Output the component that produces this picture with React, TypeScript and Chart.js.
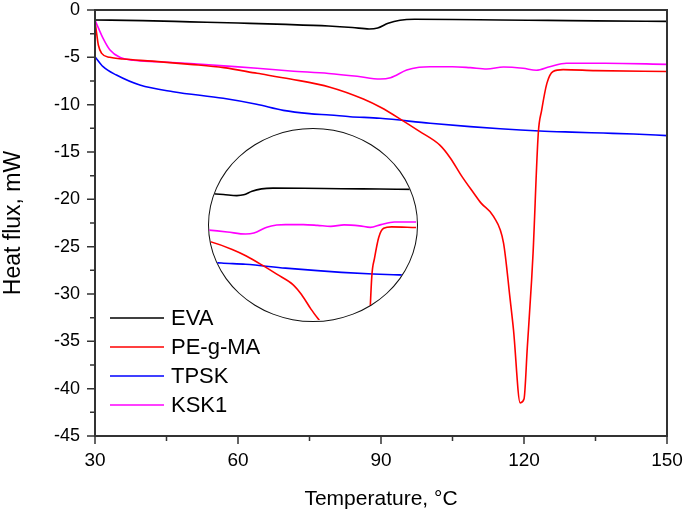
import React, { useEffect, useRef } from "react";
import { Chart, registerables } from "chart.js";

Chart.register(...registerables);

// ---------- data ----------
const seriesNames = ["EVA", "PE-g-MA", "TPSK", "KSK1"];
const seriesColors = ["#000000", "#ff0000", "#0000ff", "#ff00ff"];

const evaTemp = [30, 40, 50, 60, 70, 79, 84, 87.5, 89.3, 91.5, 94, 97, 105, 115, 125, 135, 150];
const evaFlux = [-1.05, -1.12, -1.25, -1.38, -1.52, -1.69, -1.85, -2.0, -1.9, -1.4, -1.08, -0.98, -1.0, -1.06, -1.1, -1.15, -1.2];

const pegTemp = [30, 30.3, 30.7, 31.4, 33.1, 35.9, 42, 50, 57, 64, 71, 79.3, 86.3, 90, 94.3, 98, 102.4, 104.5, 107, 109.4, 111, 113.6, 115.7, 117.1, 117.8, 119.2, 120, 120.7, 121.6, 121.9, 123, 123.7, 124.8, 126.1, 128.2, 135, 150];
const pegFlux = [-1.2, -2.3, -3.7, -4.58, -5.0, -5.18, -5.4, -5.74, -6.09, -6.69, -7.29, -8.15, -9.4, -10.3, -11.6, -12.8, -14.3, -15.6, -17.6, -19.3, -20.4, -21.8, -24.6, -30.6, -33.8, -41.5, -41.1, -35.6, -28.5, -25.7, -13.0, -10.6, -7.75, -6.5, -6.3, -6.4, -6.5];

const tpskTemp = [30, 31.7, 34.5, 39.4, 46.4, 56.9, 63.9, 69.5, 75, 79.3, 83.5, 89.8, 100.3, 108.7, 115, 123.3, 130, 136.6, 143, 150];
const tpskFlux = [-4.93, -5.99, -6.87, -7.92, -8.63, -9.33, -9.96, -10.6, -10.95, -11.09, -11.27, -11.44, -11.97, -12.32, -12.55, -12.78, -12.9, -13.0, -13.1, -13.27];

const kskTemp = [30, 30.8, 31.7, 33.1, 35.2, 38, 43, 50, 57, 64, 71, 79, 85, 89.8, 92, 95.4, 98, 100.3, 105, 108.7, 112.2, 115.7, 119.8, 122.6, 125.4, 128.9, 137, 150];
const kskFlux = [-1.06, -2.0, -3.0, -4.2, -5.0, -5.3, -5.46, -5.65, -5.9, -6.15, -6.44, -6.7, -7.0, -7.29, -7.15, -6.34, -6.05, -5.99, -5.99, -6.09, -6.23, -6.02, -6.16, -6.37, -5.99, -5.63, -5.63, -5.74];

const seriesTemps = [evaTemp, pegTemp, tpskTemp, kskTemp];
const seriesFlux = [evaFlux, pegFlux, tpskFlux, kskFlux];

const xTicks = [30, 60, 90, 120, 150];
const xMinorTicks = [45, 75, 105, 135];
const yTicks = [0, -5, -10, -15, -20, -25, -30, -35, -40, -45];
const yMinorTicks = [-2.5, -7.5, -12.5, -17.5, -22.5, -27.5, -32.5, -37.5, -42.5];

const xTitle = "Temperature, °C";
const yTitle = "Heat flux, mW";

// zoomed inset view range
const insetX = [80.2, 134.6];
const insetY = [-19.1, 7.15];

const FONT = "'Liberation Sans', Arial, Helvetica, sans-serif";

function makeDatasets() {
  return seriesNames.map((name, i) => ({
    label: name,
    data: seriesTemps[i].map((t, j) => ({ x: t, y: seriesFlux[i][j] })),
    borderColor: seriesColors[i],
    backgroundColor: seriesColors[i],
    borderWidth: 1.6,
    pointRadius: 0,
    fill: false,
    cubicInterpolationMode: "monotone" as const,
  }));
}

const framePlugin = {
  id: "frameAndTicks",
  afterDraw(chart: any) {
    const { ctx, chartArea, scales } = chart;
    ctx.save();
    ctx.strokeStyle = "#333";
    ctx.lineWidth = 2;
    ctx.strokeRect(chartArea.left, chartArea.top, chartArea.right - chartArea.left, chartArea.bottom - chartArea.top);
    ctx.lineWidth = 1.5;
    ctx.beginPath();
    const tick = (v: number, len: number, axis: "x" | "y") => {
      if (axis === "x") {
        const px = scales.x.getPixelForValue(v);
        ctx.moveTo(px, chartArea.bottom);
        ctx.lineTo(px, chartArea.bottom + len);
      } else {
        const py = scales.y.getPixelForValue(v);
        ctx.moveTo(chartArea.left, py);
        ctx.lineTo(chartArea.left - len, py);
      }
    };
    xTicks.forEach((v) => tick(v, 8, "x"));
    xMinorTicks.forEach((v) => tick(v, 5, "x"));
    yTicks.forEach((v) => tick(v, 8, "y"));
    yMinorTicks.forEach((v) => tick(v, 5, "y"));
    ctx.stroke();
    ctx.restore();
  },
};

const legendPlugin = {
  id: "insideLegend",
  afterDatasetsDraw(chart: any) {
    const { ctx, chartArea } = chart;
    ctx.save();
    ctx.font = `22px ${FONT}`;
    ctx.textBaseline = "middle";
    ctx.textAlign = "left";
    const x0 = chartArea.left + 15;
    const y0 = chartArea.top + 308;
    chart.data.datasets.forEach((ds: any, i: number) => {
      const y = y0 + i * 29;
      ctx.strokeStyle = ds.borderColor;
      ctx.lineWidth = 1.6;
      ctx.beginPath();
      ctx.moveTo(x0, y);
      ctx.lineTo(x0 + 54, y);
      ctx.stroke();
      ctx.fillStyle = "#000";
      ctx.fillText(ds.label, x0 + 61, y + 1);
    });
    ctx.restore();
  },
};

export default function App() {
  const mainRef = useRef<HTMLCanvasElement>(null);
  const insetRef = useRef<HTMLCanvasElement>(null);

  useEffect(() => {
    Chart.defaults.font.family = FONT;
    const main = new Chart(mainRef.current as HTMLCanvasElement, {
      type: "line",
      data: { datasets: makeDatasets() as any },
      options: {
        animation: false,
        responsive: false,
        devicePixelRatio: 1,
        parsing: false as any,
        layout: { padding: { top: 10, right: 18, left: 0, bottom: 0 } },
        plugins: { legend: { display: false }, tooltip: { enabled: false } },
        scales: {
          x: {
            type: "linear",
            min: 30,
            max: 150,
            afterBuildTicks: (s: any) => {
              s.ticks = xTicks.map((v) => ({ value: v }));
            },
            afterFit: (s: any) => {
              s.height = 79;
            },
            ticks: { font: { size: 19 }, color: "#000", padding: 0, maxRotation: 0, autoSkip: false },
            grid: { display: true, drawOnChartArea: false, drawTicks: true, tickLength: 13, tickColor: "rgba(0,0,0,0)" },
            border: { display: true, color: "#333", width: 2 },
            title: { display: true, text: xTitle, color: "#000", font: { size: 21 }, padding: { top: 0, bottom: 3 } },
          },
          y: {
            type: "linear",
            min: -45,
            max: 0,
            afterBuildTicks: (s: any) => {
              s.ticks = yTicks.map((v) => ({ value: v }));
            },
            afterFit: (s: any) => {
              s.width = 95;
            },
            ticks: { font: { size: 18, lineHeight: 1.1 }, color: "#000", padding: 0 },
            grid: { display: true, drawOnChartArea: false, drawTicks: true, tickLength: 15, tickColor: "rgba(0,0,0,0)" },
            border: { display: true, color: "#333", width: 2 },
            title: { display: true, text: yTitle, color: "#000", font: { size: 23 }, padding: { top: 0, bottom: 0 } },
          },
        },
      },
      plugins: [framePlugin, legendPlugin],
    });

    const inset = new Chart(insetRef.current as HTMLCanvasElement, {
      type: "line",
      data: { datasets: makeDatasets() as any },
      options: {
        animation: false,
        responsive: false,
        devicePixelRatio: 1,
        parsing: false as any,
        layout: { padding: 0 },
        plugins: { legend: { display: false }, tooltip: { enabled: false } },
        scales: {
          x: { type: "linear", display: false, min: insetX[0], max: insetX[1] },
          y: { type: "linear", display: false, min: insetY[0], max: insetY[1] },
        },
      },
    });

    return () => {
      main.destroy();
      inset.destroy();
    };
  }, []);

  return (
    <div style={{ position: "fixed", left: 0, top: 0, width: 685, height: 515, background: "#fff" }}>
      <canvas ref={mainRef} width={685} height={515} style={{ width: 685, height: 515, display: "block" }} />
      <div
        style={{
          position: "absolute",
          left: 208,
          top: 128,
          width: 210,
          height: 194,
          borderRadius: "50%",
          border: "1.5px solid #111",
          boxSizing: "border-box",
          overflow: "hidden",
          background: "#fff",
        }}
      >
        <canvas ref={insetRef} width={207} height={191} style={{ width: 207, height: 191, display: "block" }} />
      </div>
    </div>
  );
}
